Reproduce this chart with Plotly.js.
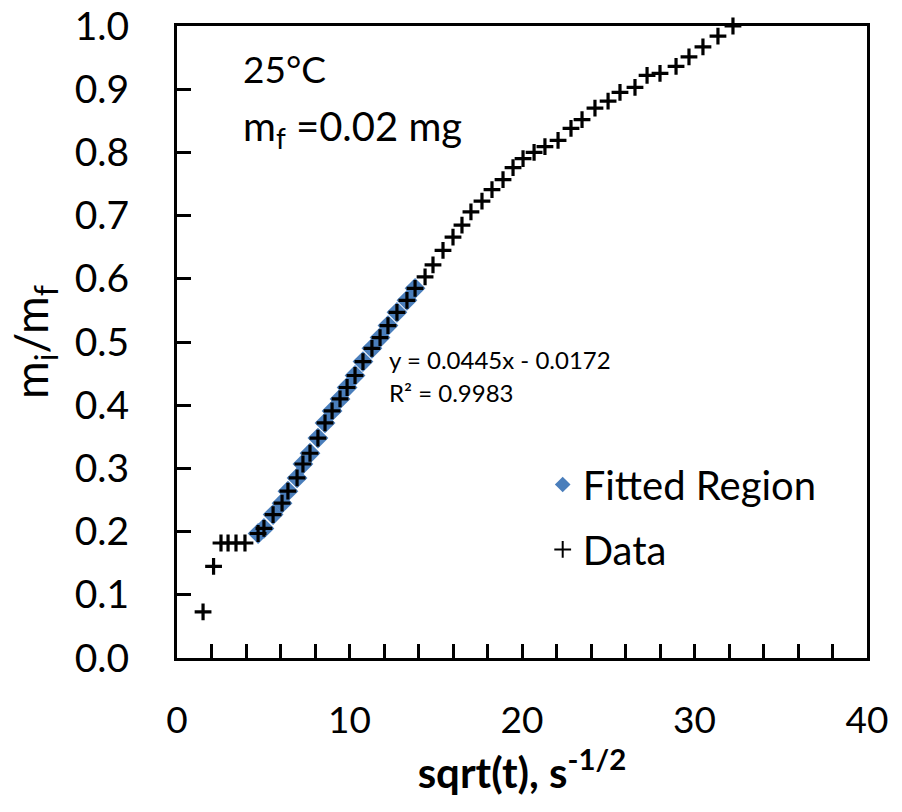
<!DOCTYPE html>
<html>
<head>
<meta charset="utf-8">
<script src="https://cdn.plot.ly/plotly-3.0.1.min.js"></script>
<style>html,body{margin:0;padding:0;background:#fff;}#chart{width:902px;height:812px;}</style>
</head>
<body>
<div id="chart"></div>
<script>
// Fitted region (sqrt(t), mi/mf)
const fitX = [4.70, 5.04, 5.57, 6.09, 6.43, 6.96, 7.30, 7.71, 8.17, 8.58, 8.99, 9.45, 9.86, 10.32, 10.78, 11.30, 11.77, 12.23, 12.75, 13.33, 13.80];
const fitY = [0.197, 0.205, 0.227, 0.245, 0.264, 0.285, 0.307, 0.324, 0.348, 0.372, 0.391, 0.410, 0.428, 0.447, 0.469, 0.490, 0.507, 0.526, 0.547, 0.566, 0.585];

// Data before the fitted region
const preX = [1.51, 2.12, 2.55, 2.96, 3.42, 3.94];
const preY = [0.073, 0.145, 0.182, 0.182, 0.182, 0.182];
// Data after the fitted region
const postX = [14.38, 14.84, 15.42, 16.00, 16.52, 17.04, 17.68, 18.26, 18.90, 19.48, 20.06, 20.70, 21.33, 22.09, 22.84, 23.48, 24.23, 24.99, 25.68, 26.55, 27.25, 28.00, 28.93, 29.68, 30.49, 31.36, 32.23];
const postY = [0.603, 0.622, 0.645, 0.666, 0.685, 0.706, 0.723, 0.741, 0.757, 0.776, 0.790, 0.800, 0.809, 0.819, 0.838, 0.852, 0.870, 0.881, 0.895, 0.903, 0.922, 0.925, 0.936, 0.951, 0.967, 0.984, 1.000];

const dataX = preX.concat(fitX, postX);
const dataY = preY.concat(fitY, postY);

const xTickVals = [0, 10, 20, 30, 40];
const xTickText = ['0','10','20','30','40'];
const yTickVals = [0, 0.1, 0.2, 0.3, 0.4, 0.5, 0.6, 0.7, 0.8, 0.9, 1.0];
const yTickText = ['0.0','0.1','0.2','0.3','0.4','0.5','0.6','0.7','0.8','0.9','1.0'];

const FONT = 'Lato, "Open Sans", sans-serif';

const traces = [
  {
    x: fitX, y: fitY, type: 'scatter', mode: 'markers', name: 'Fitted Region',
    legendgroup: 'a',
    marker: {symbol: 'diamond', size: 16, color: '#4A7EBB', line: {width: 0}},
    cliponaxis: false
  },
  {
    x: dataX, y: dataY, type: 'scatter', mode: 'markers', name: 'Data',
    legendgroup: 'b',
    marker: {symbol: 'cross-thin', size: 12, color: 'black', line: {width: 3.2, color: 'black'}},
    cliponaxis: false
  }
];

const layout = {
  width: 902, height: 812,
  margin: {l: 177, r: 35, t: 26, b: 154},
  paper_bgcolor: '#fff', plot_bgcolor: '#fff',
  font: {family: FONT, color: '#000'},
  showlegend: true,
  legend: {
    x: 0.53, y: 0.326, xanchor: 'left', yanchor: 'top',
    bgcolor: 'rgba(0,0,0,0)', borderwidth: 0,
    font: {size: 40, family: FONT, color: '#000'},
    traceorder: 'grouped', tracegroupgap: 10,
    itemsizing: 'constant'
  },
  xaxis: {
    range: [0, 40], tickvals: xTickVals, ticktext: xTickText,
    ticks: 'inside', ticklen: 14, tickwidth: 3, tickcolor: '#000',
    minor: {dtick: 2, ticks: 'inside', ticklen: 14, tickwidth: 3, tickcolor: '#000'},
    showline: true, linewidth: 3, linecolor: '#000', mirror: true,
    showgrid: false, zeroline: false,
    tickfont: {size: 37, family: FONT, color: '#000'},
    ticklabelstandoff: 28,
    title: {text: '<b>sqrt(t), s<sup>-1/2</sup></b>', font: {size: 42, family: FONT, color: '#000'}, standoff: 18}
  },
  yaxis: {
    range: [0, 1], tickvals: yTickVals, ticktext: yTickText,
    ticks: 'inside', ticklen: 14, tickwidth: 3, tickcolor: '#000',
    showline: true, linewidth: 3, linecolor: '#000', mirror: true,
    showgrid: false, zeroline: false,
    tickfont: {size: 39, family: FONT, color: '#000'},
    ticklabelstandoff: 37,
    title: {text: 'm<sub>i</sub>/m<sub>f</sub>', font: {size: 46, family: FONT, color: '#000'}, standoff: 12}
  },
  annotations: [
    {xref: 'paper', yref: 'paper', x: 0.093, y: 0.932, xanchor: 'left', yanchor: 'middle',
     text: '25°C', showarrow: false, font: {size: 37, family: FONT, color: '#000'}},
    {xref: 'paper', yref: 'paper', x: 0.093, y: 0.838, xanchor: 'left', yanchor: 'middle',
     text: 'm<sub>f</sub> =0.02 mg', showarrow: false, font: {size: 40, family: FONT, color: '#000'}},
    {xref: 'paper', yref: 'paper', x: 0.304, y: 0.473, xanchor: 'left', yanchor: 'middle',
     text: 'y = 0.0445x - 0.0172', showarrow: false, font: {size: 24, family: FONT, color: '#000'}},
    {xref: 'paper', yref: 'paper', x: 0.304, y: 0.42, xanchor: 'left', yanchor: 'middle',
     text: 'R² = 0.9983', showarrow: false, font: {size: 24, family: FONT, color: '#000'}}
  ]
};

Plotly.newPlot('chart', traces, layout, {displayModeBar: false, staticPlot: true});
</script>
</body>
</html>
